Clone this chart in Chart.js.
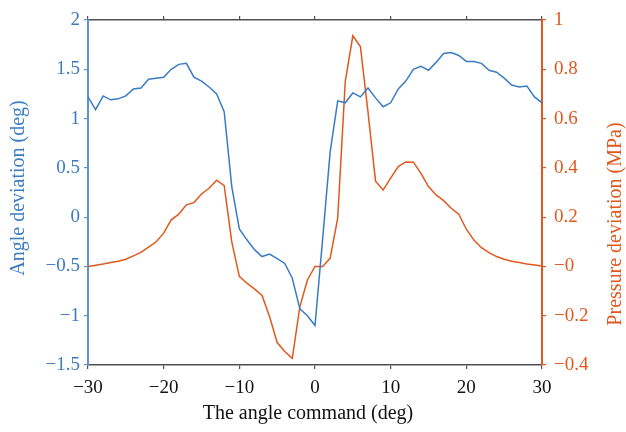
<!DOCTYPE html>
<html>
<head>
<meta charset="utf-8">
<script src="https://cdn.jsdelivr.net/npm/chart.js@4"></script>
<style>
  html, body { margin: 0; padding: 0; background: #fff; }
  #wrap { width: 626px; height: 432px; }
</style>
</head>
<body>
<div id="wrap"><canvas id="devChart" width="626" height="432"></canvas></div>
<script>
// data
const angles = [
  -30, -29, -28, -27, -26, -25, -24, -23, -22, -21,
  -20, -19, -18, -17, -16, -15, -14, -13, -12, -11,
  -10, -9, -8, -7, -6, -5, -4, -3, -2, -1,
  0, 1, 2, 3, 4, 5, 6, 7, 8, 9,
  10, 11, 12, 13, 14, 15, 16, 17, 18, 19,
  20, 21, 22, 23, 24, 25, 26, 27, 28, 29, 30,
];
// angle deviation (deg), left axis
const angleDev = [
  1.22, 1.09, 1.23, 1.19, 1.2, 1.23, 1.3, 1.31, 1.4, 1.41,
  1.42, 1.5, 1.55, 1.56, 1.42, 1.38, 1.32, 1.25, 1.07, 0.31,
  -0.12, -0.23, -0.33, -0.4, -0.375, -0.42, -0.47, -0.62, -0.93, -1.0,
  -1.1, -0.23, 0.66, 1.18, 1.16, 1.26, 1.22, 1.31, 1.21, 1.12,
  1.16, 1.3, 1.38, 1.5, 1.53, 1.49, 1.57, 1.66, 1.67, 1.64,
  1.58, 1.58, 1.56, 1.49, 1.47, 1.41, 1.34, 1.32, 1.33, 1.22, 1.16,
];
// pressure deviation (MPa), right axis
const pressureDev = [
  0.0, 0.005, 0.01, 0.016, 0.021, 0.029, 0.043, 0.057, 0.078, 0.1,
  0.135, 0.189, 0.212, 0.25, 0.259, 0.294, 0.317, 0.35, 0.328, 0.1,
  -0.04, -0.068, -0.091, -0.118, -0.204, -0.309, -0.345, -0.373, -0.163, -0.055,
  0.0, 0.0, 0.033, 0.196, 0.75, 0.936, 0.892, 0.628, 0.346, 0.31,
  0.358, 0.405, 0.424, 0.423, 0.378, 0.324, 0.29, 0.267, 0.236, 0.212,
  0.151, 0.107, 0.076, 0.056, 0.04, 0.029, 0.021, 0.016, 0.01, 0.006, 0.002,
];

const blue = "rgb(58, 124, 196)";
const blueAxis = "rgb(92, 148, 206)";
const orange = "rgb(224, 88, 30)";
const dark = "rgb(80, 80, 80)";
const serif = "'Liberation Serif', 'DejaVu Serif', serif";

const minusSign = (s) => s.replace("-", "\u2212");

// titles drawn next to the axes
const axisTitles = {
  id: "axisTitles",
  afterDraw(chart) {
    const ctx = chart.ctx;
    ctx.save();
    ctx.font = "20px " + serif;
    ctx.textAlign = "center";
    ctx.textBaseline = "middle";

    ctx.fillStyle = "#111";
    ctx.fillText("The angle command (deg)", 308, 414);

    ctx.save();
    ctx.translate(19, 188);
    ctx.rotate(-Math.PI / 2);
    ctx.fillStyle = blue;
    ctx.fillText("Angle deviation (deg)", 0, 0);
    ctx.restore();

    ctx.save();
    ctx.translate(616, 224);
    ctx.rotate(-Math.PI / 2);
    ctx.fillStyle = orange;
    ctx.fillText("Pressure deviation (MPa)", 0, 0);
    ctx.restore();

    ctx.restore();
  },
};

new Chart(document.getElementById("devChart"), {
  type: "line",
  data: {
    datasets: [
      {
        label: "Angle deviation",
        data: angles.map((a, i) => ({ x: a, y: angleDev[i] })),
        borderColor: blue,
        borderWidth: 1.5,
        pointRadius: 0,
        tension: 0,
        yAxisID: "y",
        xAxisID: "x",
      },
      {
        label: "Pressure deviation",
        data: angles.map((a, i) => ({ x: a, y: pressureDev[i] })),
        borderColor: orange,
        borderWidth: 1.5,
        pointRadius: 0,
        tension: 0,
        yAxisID: "y2",
        xAxisID: "x",
      },
    ],
  },
  options: {
    responsive: false,
    animation: false,
    layout: { padding: 0 },
    plugins: {
      legend: { display: false },
      tooltip: { enabled: false },
    },
    scales: {
      x: {
        type: "linear",
        position: "bottom",
        min: -30,
        max: 30,
        ticks: {
          stepSize: 10,
          color: "#111",
          font: { family: serif, size: 19 },
          padding: 8,
          maxRotation: 0,
          callback: (v) => minusSign(String(v)),
        },
        grid: { drawOnChartArea: false, tickLength: 4, color: dark, lineWidth: 1.2 },
        border: { color: dark, width: 1.5 },
        afterFit: (s) => { s.height = 67; },
      },
      xTop: {
        type: "linear",
        position: "top",
        min: -30,
        max: 30,
        ticks: { stepSize: 10, color: "rgba(0,0,0,0)" },
        grid: { drawOnChartArea: false, tickLength: 4, color: dark, lineWidth: 1.2 },
        border: { color: dark, width: 1.5 },
        afterFit: (s) => { s.height = 20; },
      },
      y: {
        position: "left",
        min: -1.5,
        max: 2,
        ticks: {
          stepSize: 0.5,
          color: blue,
          font: { family: serif, size: 19 },
          padding: 4,
          callback: (v) => minusSign(String(parseFloat(v.toFixed(1)))),
        },
        grid: { drawOnChartArea: false, tickLength: 4, color: blueAxis, lineWidth: 1.2 },
        border: { color: blueAxis, width: 2 },
        afterFit: (s) => { s.width = 88; },
      },
      y2: {
        position: "right",
        min: -0.4,
        max: 1,
        ticks: {
          stepSize: 0.2,
          color: orange,
          font: { family: serif, size: 19 },
          padding: 8,
          callback: (v) => {
            if (Math.abs(v) < 1e-9) return "\u22120";
            if (Math.abs(v - 1) < 1e-9) return "1";
            return minusSign(v.toFixed(1));
          },
        },
        grid: { drawOnChartArea: false, tickLength: 4, color: orange, lineWidth: 1.2 },
        border: { color: orange, width: 2 },
        afterFit: (s) => { s.width = 84; },
      },
    },
  },
  plugins: [axisTitles],
});
</script>
</body>
</html>
